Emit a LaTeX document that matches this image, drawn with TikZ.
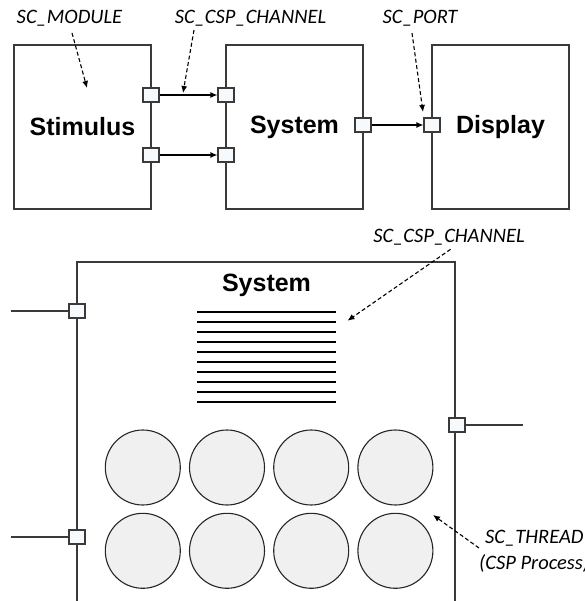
\documentclass[tikz,border=0pt]{standalone}
\usepackage{fontspec}
\setmainfont{Liberation Sans}
\newfontfamily\notefont{Carlito}
\usetikzlibrary{arrows.meta,shapes.geometric}
\definecolor{edgegray}{HTML}{3A3A3A}
\definecolor{portfill}{HTML}{F6FAFD}
\definecolor{threadfill}{HTML}{F0F0F0}
\tikzset{
  modbox/.style={draw=edgegray, line width=1.2pt, rectangle, minimum width=137pt, minimum height=164pt, inner sep=0pt,
    font=\fontsize{25}{28}\selectfont\bfseries},
  portbox/.style={draw=edgegray, fill=portfill, line width=1.1pt, rectangle, minimum width=16pt, minimum height=14pt, inner sep=0pt},
  chan/.style={draw=black, line width=1.2pt, -{Latex[length=7pt,width=6pt]}},
  wire/.style={draw=edgegray, line width=1.1pt},
  note/.style={font=\notefont\itshape\fontsize{20.5}{24}\selectfont, inner sep=0pt},
  pointer/.style={draw=black, line width=1.1pt, dash pattern=on 4pt off 2.5pt, -{Latex[length=7pt,width=6pt]}},
  chline/.style={draw=black, line width=2pt},
  thread/.style={draw=black!85, fill=threadfill, line width=1.1pt, circle, minimum size=75pt, inner sep=0pt},
}
\begin{document}
\begin{tikzpicture}[x=1pt,y=-1pt]
\useasboundingbox (0,0) rectangle (584,601);
% top modules
\node[modbox] (stim) at (82.5,127) {Stimulus};
\node[modbox] (sys) at (294.5,127) {System};
\node[modbox] (disp) at (500.5,127) {Display};
% ports
\node[portbox] (p1) at (151,95) {};
\node[portbox] (p2) at (151,155) {};
\node[portbox] (p3) at (226,95) {};
\node[portbox] (p4) at (226,155) {};
\node[portbox] (p5) at (363,125) {};
\node[portbox] (p6) at (432,125) {};
\draw[chan] (p1.east) -- (p3.west);
\draw[chan] (p2.east) -- (p4.west);
\draw[chan] (p5.east) -- (p6.west);
% top labels
\node[note] (lmod) at (69.5,18) {SC\_MODULE};
\node[note] (lchan) at (250.5,18) {SC\_CSP\_CHANNEL};
\node[note] (lport) at (420,18) {SC\_PORT};
\coordinate (amod1) at (72,33);
\coordinate (amod2) at (87,88);
\coordinate (achan1) at (194,30);
\coordinate (achan2) at (183,93);
\coordinate (aport1) at (412,33);
\coordinate (aport2) at (423,112);
\draw[pointer] (amod1) -- (amod2);
\draw[pointer] (achan1) -- (achan2);
\draw[pointer] (aport1) -- (aport2);
% bottom system
\node[draw=edgegray, line width=1.2pt, rectangle, minimum width=378pt, minimum height=400pt, inner sep=0pt] (bigsys) at (266,462) {};
\node[font=\fontsize{25}{28}\selectfont\bfseries, inner sep=0pt] (systitle) at (266.5,285) {System};
\foreach \i in {0,...,9} {
  \coordinate (cl\i) at (197.3,{311.7+\i*10});
  \coordinate (cr\i) at (336,{311.7+\i*10});
  \draw[chline] (cl\i) -- (cr\i);
}
\node[portbox] (q1) at (77,311) {};
\node[portbox] (q2) at (77,537) {};
\node[portbox] (q3) at (457,425) {};
\coordinate (w1) at (11,311);
\coordinate (w2) at (11,537);
\coordinate (w3) at (523,425);
\draw[wire] (w1) -- (q1.west);
\draw[wire] (w2) -- (q2.west);
\draw[wire] (q3.east) -- (w3);
% threads
\foreach \x [count=\k] in {142.8,227,311.2,395.4} {
  \node[thread] (t1\k) at (\x,467.5) {};
  \node[thread] (t2\k) at (\x,550.8) {};
}
% bottom labels
\node[note] (lchan2) at (449,237) {SC\_CSP\_CHANNEL};
\node[note, anchor=west] (lthread) at (485,538) {SC\_THREAD};
\node[note, anchor=west] (lproc) at (479,563) {(CSP Process)};
\coordinate (bchan1) at (450.6,249.3);
\coordinate (bchan2) at (347.5,320.7);
\coordinate (bthr1) at (479,548);
\coordinate (bthr2) at (433,515);
\draw[pointer] (bchan1) -- (bchan2);
\draw[pointer] (bthr1) -- (bthr2);
\end{tikzpicture}
\end{document}
